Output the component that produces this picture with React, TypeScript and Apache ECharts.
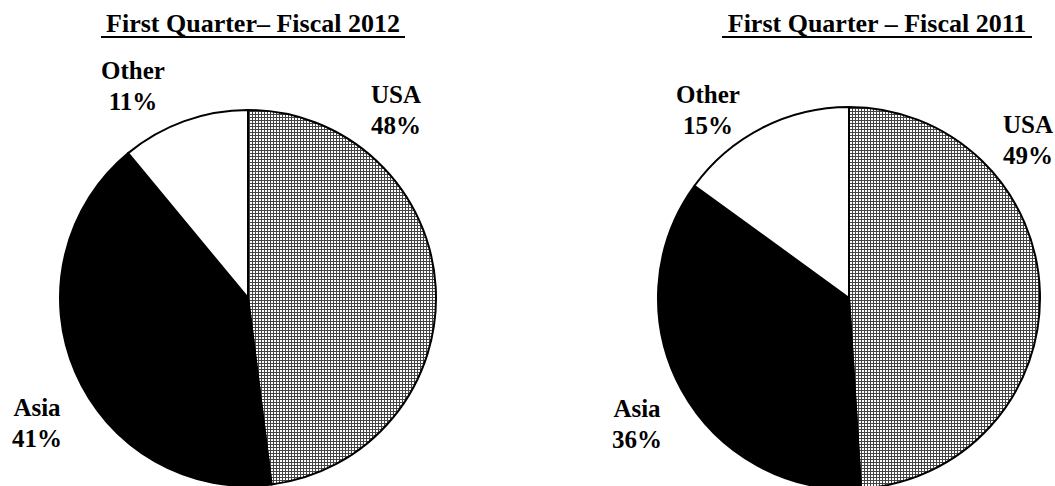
import React, { useEffect, useRef } from "react";
import * as echarts from "echarts";

const categories = ["USA", "Asia", "Other"];
const fiscal2012 = [48, 41, 11];
const fiscal2011 = [49, 36, 15];
const titles = ["First Quarter\u2013 Fiscal 2012", "First Quarter \u2013 Fiscal 2011"];

// layout (pixel positions of label blocks, per pie, per category)
const labelPos2012 = [
  [396, 110],
  [37, 423],
  [133, 86],
];
const labelPos2011 = [
  [1028, 140],
  [637, 424],
  [708, 110],
];

const FONT = "'Liberation Serif', 'Times New Roman', serif";

function makePattern(): HTMLCanvasElement {
  const c = document.createElement("canvas");
  c.width = 3;
  c.height = 3;
  const ctx = c.getContext("2d")!;
  ctx.fillStyle = "#ffffff";
  ctx.fillRect(0, 0, 3, 3);
  ctx.fillStyle = "#444444";
  ctx.fillRect(0, 0, 3, 1);
  ctx.fillRect(0, 0, 1, 3);
  return c;
}

export default function App() {
  const ref = useRef<HTMLDivElement>(null);
  useEffect(() => {
    if (!ref.current) return;
    const chart = echarts.init(ref.current, null, { renderer: "svg" });
    const pat = makePattern();
    const pattern: any = { image: pat, repeat: "repeat", imageWidth: 3, imageHeight: 3 };
    const fills = [pattern, "#000000", "#ffffff"];

    const mkSeries = (values: number[], center: number[], radius: number, pos: number[][]) => ({
      type: "pie",
      center,
      radius,
      startAngle: 90,
      clockwise: true,
      avoidLabelOverlap: false,
      silent: true,
      data: categories.map((name, i) => ({
        name,
        value: values[i],
        itemStyle: { color: fills[i] },
      })),
      itemStyle: { borderColor: "#000", borderWidth: 2 },
      label: {
        show: true,
        position: "outside",
        formatter: "{b}\n{c}%",
        fontFamily: FONT,
        fontWeight: "bold",
        fontSize: 25,
        lineHeight: 31,
        color: "#000",
        align: "center",
      },
      labelLine: { show: false },
      labelLayout: (p: any) => ({
        x: pos[p.dataIndex][0],
        y: pos[p.dataIndex][1],
        align: "center",
        verticalAlign: "middle",
        hideOverlap: false,
      }),
      emphasis: { disabled: true },
    });

    chart.setOption({
      animation: false,
      backgroundColor: "#ffffff",
      graphic: [
        {
          type: "text",
          x: 253,
          y: 23,
          style: {
            text: titles[0],
            font: `bold 26px ${FONT}`,
            fill: "#000",
            align: "center",
            verticalAlign: "middle",
          },
        },
        { type: "rect", shape: { x: 101, y: 36, width: 304, height: 2 }, style: { fill: "#000" } },
        {
          type: "text",
          x: 877,
          y: 23,
          style: {
            text: titles[1],
            font: `bold 26px ${FONT}`,
            fill: "#000",
            align: "center",
            verticalAlign: "middle",
          },
        },
        { type: "rect", shape: { x: 722, y: 36, width: 310, height: 2 }, style: { fill: "#000" } },
      ],
      series: [
        mkSeries(fiscal2012, [248, 298], 188, labelPos2012),
        mkSeries(fiscal2011, [849, 298], 191, labelPos2011),
      ],
    });
    return () => chart.dispose();
  }, []);
  return (
    <div
      ref={ref}
      style={{ position: "fixed", left: 0, top: 0, width: 1055, height: 486, background: "#fff" }}
    />
  );
}
